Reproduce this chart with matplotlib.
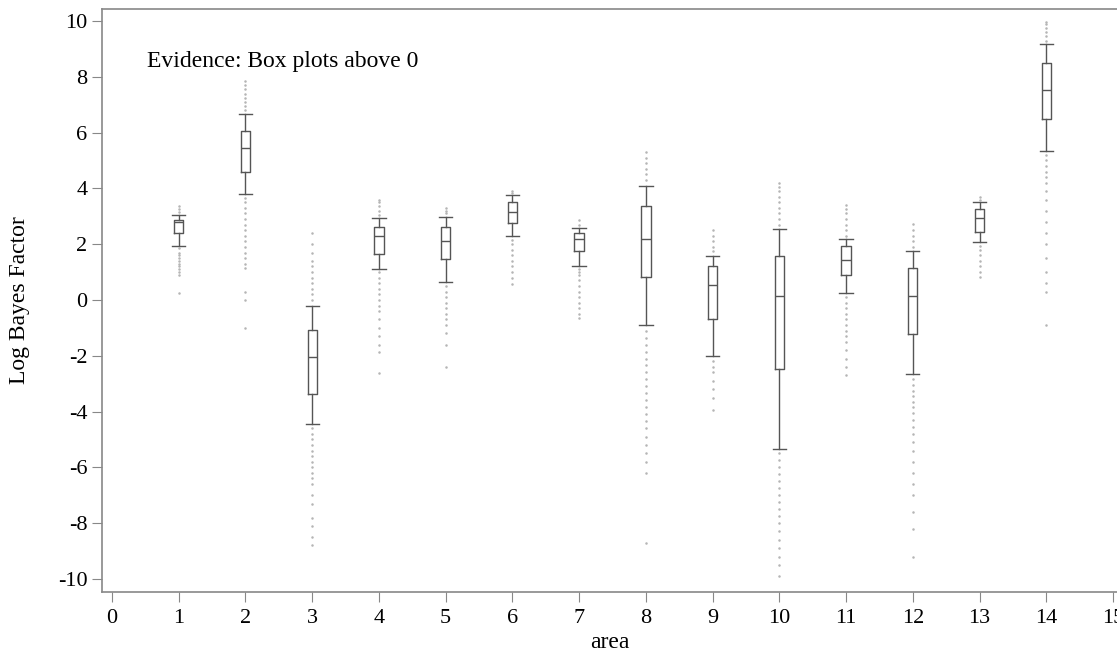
import numpy as np
import matplotlib.pyplot as plt

plt.rcParams['font.family'] = ['Liberation Serif', 'DejaVu Serif']
plt.rcParams['axes.unicode_minus'] = False

# Kennwerte je Gebiet
areas = list(range(1, 15))
medians = [2.8, 5.45, -2.05, 2.3, 2.12, 3.15, 2.2, 2.2, 0.54, 0.14, 1.44, 0.15, 2.93, 7.53]
q1 = [2.4, 4.6, -3.37, 1.65, 1.47, 2.75, 1.77, 0.82, -0.68, -2.48, 0.9, -1.23, 2.45, 6.49]
q3 = [2.87, 6.06, -1.08, 2.62, 2.6, 3.5, 2.4, 3.35, 1.22, 1.58, 1.94, 1.14, 3.26, 8.49]
whis_lo = [1.94, 3.8, -4.45, 1.1, 0.64, 2.3, 1.2, -0.9, -2.0, -5.34, 0.24, -2.66, 2.07, 5.34]
whis_hi = [3.05, 6.66, -0.2, 2.93, 2.97, 3.75, 2.58, 4.1, 1.58, 2.55, 2.18, 1.77, 3.5, 9.17]

fliers = [
    [3.15, 3.25, 3.35, 1.85, 1.7, 1.6, 1.5, 1.4, 1.3, 1.2, 1.1, 1.0, 0.9, 0.25],
    [6.8, 6.95, 7.1, 7.25, 7.4, 7.55, 7.7, 7.85, 3.65, 3.5, 3.3, 3.1, 2.9, 2.7,
     2.5, 2.3, 2.1, 1.9, 1.7, 1.5, 1.3, 1.15, 0.3, 0.0, -1.0],
    [0.0, 0.2, 0.4, 0.6, 0.8, 1.0, 1.2, 1.4, 1.7, 2.0, 2.4, -4.6, -4.8, -5.0,
     -5.2, -5.4, -5.6, -5.8, -6.0, -6.2, -6.4, -6.6, -7.0, -7.3, -7.8, -8.1,
     -8.5, -8.8],
    [3.05, 3.2, 3.35, 3.5, 3.58, 1.0, 0.8, 0.6, 0.4, 0.2, 0.0, -0.2, -0.4, -0.7,
     -1.0, -1.3, -1.6, -1.85, -2.63],
    [3.1, 3.2, 3.3, 0.5, 0.3, 0.1, -0.1, -0.3, -0.5, -0.7, -0.9, -1.2, -1.6, -2.4],
    [3.85, 3.9, 2.15, 2.0, 1.8, 1.6, 1.4, 1.2, 1.0, 0.8, 0.57],
    [2.7, 2.85, 1.1, 1.0, 0.9, 0.7, 0.5, 0.3, 0.1, -0.1, -0.3, -0.5, -0.65],
    [4.3, 4.5, 4.7, 4.9, 5.1, 5.3, -1.1, -1.35, -1.6, -1.85, -2.1, -2.35, -2.6,
     -2.85, -3.1, -3.35, -3.6, -3.85, -4.1, -4.35, -4.6, -4.9, -5.2, -5.5,
     -5.8, -6.2, -8.7],
    [1.75, 1.9, 2.1, 2.3, 2.5, -2.2, -2.4, -2.6, -2.9, -3.2, -3.5, -3.94],
    [2.7, 2.9, 3.1, 3.3, 3.5, 3.7, 3.9, 4.05, 4.2, -5.5, -5.75, -6.0, -6.25,
     -6.5, -6.75, -7.0, -7.25, -7.5, -7.75, -8.0, -8.3, -8.6, -8.9, -9.2,
     -9.5, -9.9],
    [2.3, 2.5, 2.7, 2.9, 3.1, 3.25, 3.4, 0.1, -0.1, -0.3, -0.5, -0.7, -0.9,
     -1.1, -1.3, -1.5, -1.8, -2.1, -2.4, -2.69],
    [1.9, 2.1, 2.3, 2.5, 2.72, -2.85, -3.05, -3.25, -3.45, -3.65, -3.85, -4.05,
     -4.3, -4.55, -4.8, -5.1, -5.4, -5.8, -6.2, -6.6, -7.0, -7.6, -8.2, -9.2],
    [3.6, 3.7, 1.95, 1.8, 1.6, 1.4, 1.2, 1.0, 0.83],
    [9.3, 9.45, 9.6, 9.75, 9.9, 9.97, 5.2, 5.0, 4.8, 4.6, 4.4, 4.2, 3.9, 3.6,
     3.2, 2.8, 2.4, 2.0, 1.5, 1.0, 0.6, 0.3, -0.9],
]

stats = []
for i in range(len(areas)):
    stats.append(dict(med=medians[i], q1=q1[i], q3=q3[i],
                      whislo=whis_lo[i], whishi=whis_hi[i], fliers=fliers[i]))

fig = plt.figure(figsize=(11.17, 6.53), dpi=100)
ax = fig.add_axes([102 / 1117, 61 / 653, 1015 / 1117, 583 / 653])

line_col = '#555555'
ax.bxp(stats, positions=areas, widths=0.14, capwidths=0.2,
       boxprops=dict(color=line_col, linewidth=1.0),
       whiskerprops=dict(color=line_col, linewidth=1.0),
       capprops=dict(color=line_col, linewidth=1.0),
       medianprops=dict(color=line_col, linewidth=1.0),
       flierprops=dict(marker='.', markersize=1.6, markerfacecolor='#b5b5b5',
                       markeredgecolor='#b5b5b5', linestyle='none'))

ax.set_xlim(-0.15, 15.06)
ax.set_ylim(-10.47, 10.43)
ax.set_xticks(range(0, 16))
ax.set_xticklabels([str(v) for v in range(0, 16)])
ax.set_yticks(range(-10, 11, 2))

ax.spines['right'].set_visible(False)
for s in ['left', 'bottom', 'top']:
    ax.spines[s].set_color('#888888')
    ax.spines[s].set_linewidth(1.2)
ax.tick_params(direction='out', length=7, color='#888888', labelsize=16)
ax.tick_params(axis='x', pad=5)

ax.set_xlabel('area', fontsize=17, labelpad=3)
ax.set_ylabel('Log Bayes Factor', fontsize=17, labelpad=20)
ax.text(0.52, 8.53, 'Evidence: Box plots above 0', fontsize=17, va='center')

fig.savefig('out.png', dpi=100)
